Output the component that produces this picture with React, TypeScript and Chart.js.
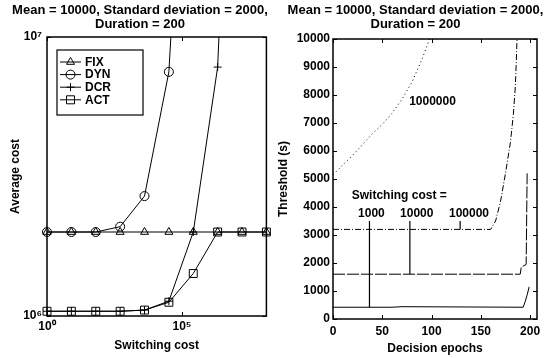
import React, { useEffect, useRef } from "react";
import { Chart, registerables } from "chart.js";

Chart.register(...registerables);

// ---------- Left panel data ----------
const switchingCosts = [1, 8, 64, 512, 4096, 32768, 262144, 2097152, 16777216, 134217728];
const fixCost = [2.0e6, 2.0e6, 2.0e6, 2.0e6, 2.0e6, 2.0e6, 2.0e6, 2.0e6, 2.0e6, 2.0e6];
const dynCost = [2.0e6, 2.0e6, 2.0e6, 2.09e6, 2.69e6, 7.5e6, 2.6e8, null, null, null];
const dcrCost = [1.04e6, 1.04e6, 1.04e6, 1.04e6, 1.05e6, 1.13e6, 2.0e6, 7.8e6, 8.7e8, null];
const actCost = [1.04e6, 1.04e6, 1.04e6, 1.04e6, 1.05e6, 1.12e6, 1.42e6, 2.0e6, 2.0e6, 2.0e6];
const seriesNames = ["FIX", "DYN", "DCR", "ACT"];
const costXTicks = [1, 1e5];
const costXTickLabels = ["10\u2070", "10\u2075"];
const costYTicks = [1e6, 1e7];
const costYTickLabels = ["10\u2076", "10\u2077"];

// ---------- Right panel data ----------
const th1000Epochs = [0, 60, 70, 193, 195, 197, 198, 199];
const th1000Values = [420, 420, 440, 420, 620, 860, 1000, 1150];
const th10000Epochs = [0, 190, 191, 196, 197];
const th10000Values = [1600, 1600, 1850, 1950, 5200];
const th100000Epochs = [0, 160, 165, 170, 175, 180, 183, 185, 186, 187];
const th100000Values = [3200, 3200, 3500, 4200, 5200, 6300, 7300, 8300, 9200, 10300];
const th1000000Epochs = [0, 10, 20, 30, 40, 50, 60, 70, 80, 90, 98, 104];
const th1000000Values = [5150, 5500, 5850, 6230, 6620, 6950, 7350, 7850, 8450, 9250, 10000, 10700];
const pointerEpochs = [37, 78, 129];
const pointerTop = 3500;
const pointerBottoms = [420, 1600, 3200];
const noteTexts = ["Switching cost =", "1000", "10000", "100000", "1000000"];
const noteEpochs = [19, 39, 85, 138, 101];
const noteValues = [4400, 3750, 3750, 3750, 7750];
const noteAligns = ["left", "center", "center", "center", "center"];
const epochTicks = [0, 50, 100, 150, 200];
const thresholdTicks = [0, 1000, 2000, 3000, 4000, 5000, 6000, 7000, 8000, 9000, 10000];

const FONT = "'Liberation Sans', Arial, Helvetica, sans-serif";
const titleText = ["Mean = 10000, Standard deviation = 2000,", "Duration = 200"];

const framePlugin = {
  id: "frameTicks",
  afterDatasetsDraw(chart: any) {
    const { ctx, chartArea: a, scales } = chart;
    ctx.save();
    ctx.strokeStyle = "#000";
    ctx.lineWidth = 1;
    const xs = scales.x;
    const ys = scales.y;
    const L = 4;
    ctx.beginPath();
    xs.ticks.forEach((t: any) => {
      const p = Math.round(xs.getPixelForValue(t.value)) + 0.5;
      ctx.moveTo(p, a.bottom);
      ctx.lineTo(p, a.bottom - L);
      ctx.moveTo(p, a.top);
      ctx.lineTo(p, a.top + L);
    });
    ys.ticks.forEach((t: any) => {
      const p = Math.round(ys.getPixelForValue(t.value)) + 0.5;
      ctx.moveTo(a.left, p);
      ctx.lineTo(a.left + L, p);
      ctx.moveTo(a.right, p);
      ctx.lineTo(a.right - L, p);
    });
    ctx.stroke();
    ctx.lineWidth = 1.5;
    ctx.strokeRect(a.left, a.top, a.right - a.left, a.bottom - a.top);
    ctx.restore();
  },
};

const makeTitlePlugin = (cx: number) => ({
  id: "twoLineTitle",
  afterDraw(chart: any) {
    const { ctx } = chart;
    ctx.save();
    ctx.font = "bold 13px " + FONT;
    ctx.fillStyle = "#000";
    ctx.textAlign = "center";
    ctx.textBaseline = "middle";
    ctx.fillText(titleText[0], cx, 10);
    ctx.fillText(titleText[1], cx, 24);
    ctx.restore();
  },
});

function drawMarker(ctx: CanvasRenderingContext2D, style: string, x: number, y: number) {
  ctx.beginPath();
  if (style === "triangle") {
    const r = 4.6;
    ctx.moveTo(x, y - r);
    ctx.lineTo(x + r * 0.866, y + r * 0.5);
    ctx.lineTo(x - r * 0.866, y + r * 0.5);
    ctx.closePath();
  } else if (style === "circle") {
    ctx.arc(x, y, 4.5, 0, Math.PI * 2);
  } else if (style === "cross") {
    ctx.moveTo(x - 4, y);
    ctx.lineTo(x + 4, y);
    ctx.moveTo(x, y - 4);
    ctx.lineTo(x, y + 4);
  } else {
    ctx.rect(x - 4, y - 4, 8, 8);
  }
  ctx.stroke();
}

const legendPlugin = {
  id: "boxLegend",
  afterDatasetsDraw(chart: any) {
    const { ctx, chartArea: a } = chart;
    const bx = a.left + 10;
    const by = a.top + 13;
    const bw = 86;
    const bh = 65;
    ctx.save();
    ctx.fillStyle = "#fff";
    ctx.fillRect(bx, by, bw, bh);
    ctx.strokeStyle = "#000";
    ctx.lineWidth = 1.2;
    ctx.strokeRect(bx, by, bw, bh);
    ctx.font = "bold 12px " + FONT;
    ctx.textBaseline = "middle";
    ctx.fillStyle = "#000";
    chart.data.datasets.forEach((ds: any, i: number) => {
      const y = by + 12 + i * 12.6;
      ctx.lineWidth = 1;
      ctx.beginPath();
      ctx.moveTo(bx + 3, y);
      ctx.lineTo(bx + 24, y);
      ctx.stroke();
      drawMarker(ctx, ds.pointStyle, bx + 13.5, y);
      ctx.fillText(ds.label, bx + 28, y + 0.5);
    });
    ctx.restore();
  },
};

const notesPlugin = {
  id: "notes",
  afterDatasetsDraw(chart: any) {
    const { ctx, scales } = chart;
    ctx.save();
    ctx.font = "bold 12px " + FONT;
    ctx.fillStyle = "#000";
    ctx.textBaseline = "middle";
    noteTexts.forEach((t, i) => {
      ctx.textAlign = noteAligns[i] as CanvasTextAlign;
      ctx.fillText(t, scales.x.getPixelForValue(noteEpochs[i]), scales.y.getPixelForValue(noteValues[i]));
    });
    ctx.restore();
  },
};

const tickFont = { family: FONT, size: 12, weight: "bold" as const };

function CostChart() {
  const ref = useRef<HTMLCanvasElement>(null);
  useEffect(() => {
    const mk = (label: string, data: (number | null)[], style: string, radius: number) => ({
      label,
      data: switchingCosts.map((x, i) => ({ x, y: data[i] })),
      borderColor: "#000",
      borderWidth: 1,
      pointStyle: style,
      pointRadius: radius,
      pointBorderWidth: 1,
      pointBorderColor: "#000",
      pointBackgroundColor: "rgba(0,0,0,0)",
      spanGaps: false,
      clip: { left: 8, right: 8, top: 0, bottom: 8 },
    });
    const chart = new Chart(ref.current!, {
      type: "line",
      data: {
        datasets: [
          mk(seriesNames[0], fixCost, "triangle", 4.6),
          mk(seriesNames[1], dynCost, "circle", 4.5),
          mk(seriesNames[2], dcrCost, "cross", 4),
          mk(seriesNames[3], actCost, "rect", 5.6),
        ] as any,
      },
      options: {
        animation: false,
        responsive: false,
        layout: { padding: { left: 0, right: 4, top: 37, bottom: 0 } },
        plugins: {
          legend: { display: false },
          tooltip: { enabled: false },
          title: { display: false },
        },
        scales: {
          x: {
            type: "logarithmic",
            min: 1,
            max: 134217728,
            grid: { display: false, drawTicks: false },
            border: { display: false },
            afterBuildTicks: (s: any) => {
              s.ticks = costXTicks.map((v) => ({ value: v }));
            },
            afterFit: (s: any) => {
              s.height = 42;
            },
            ticks: {
              autoSkip: false,
              maxRotation: 0,
              color: "#000",
              font: tickFont,
              padding: 3,
              callback: (_v: any, i: number) => costXTickLabels[i],
            },
            title: { display: true, text: "Switching cost", color: "#000", font: tickFont, padding: { top: 0, bottom: 5 } },
          },
          y: {
            type: "logarithmic",
            min: 1e6,
            max: 1e7,
            grid: { display: false, drawTicks: false },
            border: { display: false },
            afterBuildTicks: (s: any) => {
              s.ticks = costYTicks.map((v) => ({ value: v }));
            },
            afterFit: (s: any) => {
              s.width = 47;
            },
            ticks: {
              autoSkip: false,
              color: "#000",
              font: tickFont,
              padding: 5,
              callback: (_v: any, i: number) => costYTickLabels[i],
            },
            title: { display: true, text: "Average cost", color: "#000", font: tickFont, padding: { top: 8, bottom: 0 } },
          },
        },
      },
      plugins: [framePlugin, legendPlugin, makeTitlePlugin(140)],
    });
    return () => chart.destroy();
  }, []);
  return <canvas ref={ref} width={273} height={358} style={{ display: "block" }} />;
}

function ThresholdChart() {
  const ref = useRef<HTMLCanvasElement>(null);
  useEffect(() => {
    const mk = (label: string, ex: number[], vals: number[], dash: number[]) => ({
      label,
      data: ex.map((x, i) => ({ x, y: vals[i] })),
      borderColor: "#000",
      borderWidth: 1,
      borderDash: dash,
      pointRadius: 0,
      clip: { left: 4, right: 4, top: 0, bottom: 4 },
    });
    const pointers = pointerEpochs.map((e, i) => ({
      label: "pointer" + i,
      data: [
        { x: e, y: pointerTop },
        { x: e, y: pointerBottoms[i] },
      ],
      borderColor: "#000",
      borderWidth: 1.2,
      pointRadius: 0,
    }));
    const chart = new Chart(ref.current!, {
      type: "line",
      data: {
        datasets: [
          mk("1000", th1000Epochs, th1000Values, []),
          mk("10000", th10000Epochs, th10000Values, [12, 2]),
          mk("100000", th100000Epochs, th100000Values, [6, 2, 1, 2]),
          mk("1000000", th1000000Epochs, th1000000Values, [1, 3]),
          ...pointers,
        ] as any,
      },
      options: {
        animation: false,
        responsive: false,
        layout: { padding: { left: 0, right: 9, top: 39, bottom: 0 } },
        plugins: {
          legend: { display: false },
          tooltip: { enabled: false },
          title: { display: false },
        },
        scales: {
          x: {
            type: "linear",
            min: 0,
            max: 207,
            grid: { display: false, drawTicks: false },
            border: { display: false },
            afterBuildTicks: (s: any) => {
              s.ticks = epochTicks.map((v) => ({ value: v }));
            },
            afterFit: (s: any) => {
              s.height = 39;
            },
            ticks: { autoSkip: false, maxRotation: 0, color: "#000", font: tickFont, padding: 5 },
            title: { display: true, text: "Decision epochs", color: "#000", font: tickFont, padding: { top: 0, bottom: 2 } },
          },
          y: {
            type: "linear",
            min: 0,
            max: 10000,
            grid: { display: false, drawTicks: false },
            border: { display: false },
            afterBuildTicks: (s: any) => {
              s.ticks = thresholdTicks.map((v) => ({ value: v }));
            },
            afterFit: (s: any) => {
              s.width = 60;
            },
            ticks: {
              autoSkip: false,
              color: "#000",
              font: tickFont,
              padding: 3,
              callback: (v: any) => String(v),
            },
            title: { display: true, text: "Threshold (s)", color: "#000", font: tickFont, padding: { top: 3, bottom: 0 } },
          },
        },
      },
      plugins: [framePlugin, notesPlugin, makeTitlePlugin(142.5)],
    });
    return () => chart.destroy();
  }, []);
  return <canvas ref={ref} width={273} height={358} style={{ display: "block" }} />;
}

export default function App() {
  return (
    <div style={{ position: "fixed", left: 0, top: 0, width: 546, height: 358, background: "#fff" }}>
      <div style={{ position: "absolute", left: 0, top: 0, width: 273, height: 358 }}>
        <CostChart />
      </div>
      <div style={{ position: "absolute", left: 273, top: 0, width: 273, height: 358 }}>
        <ThresholdChart />
      </div>
    </div>
  );
}
